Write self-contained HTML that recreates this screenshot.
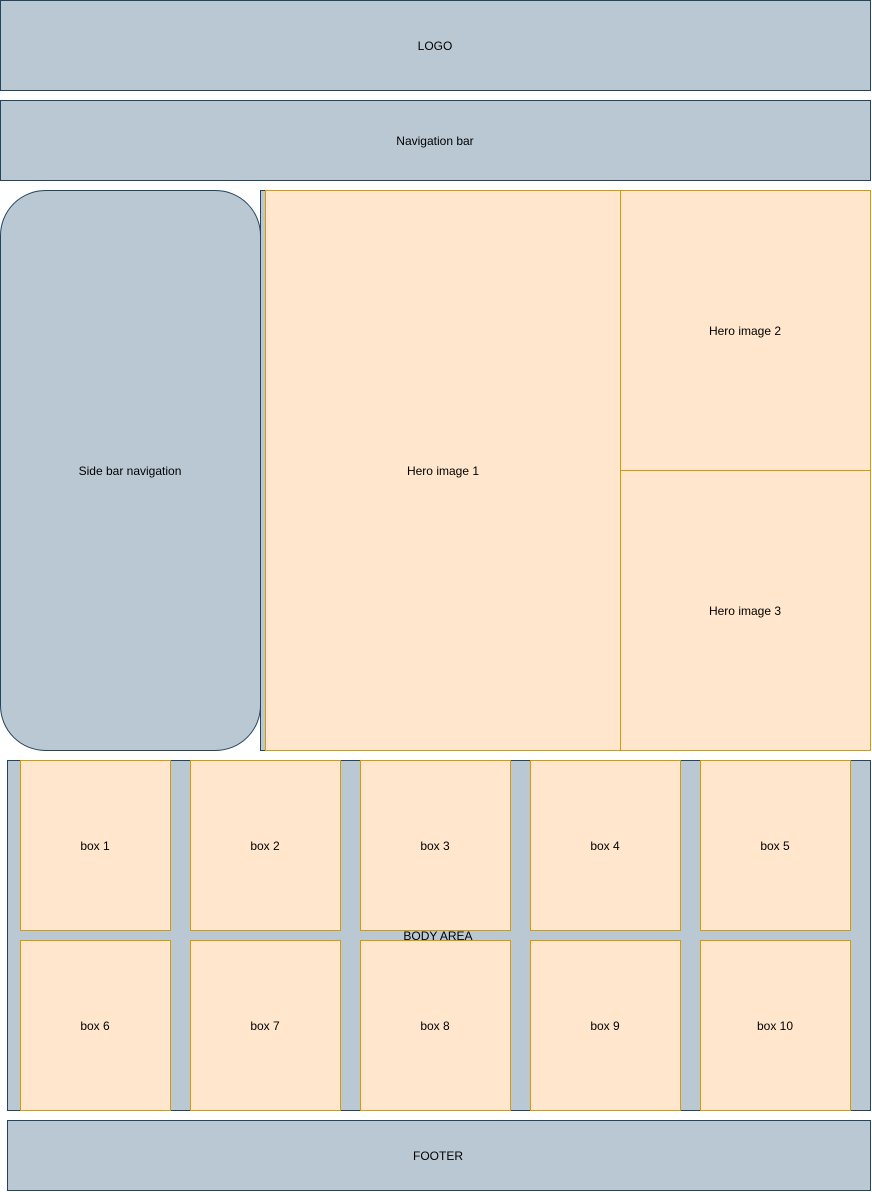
<!DOCTYPE html>
<html><head><meta charset="utf-8"><style>body{margin:0;background:#fff}svg{display:block}text{font-family:"Liberation Sans",sans-serif;font-size:12px;fill:#000;text-anchor:middle;dominant-baseline:central}</style></head><body>
<svg width="872" height="1192" viewBox="0 0 872 1192">
<g fill="#bac8d3" stroke="#23445d">
<rect x="0.5" y="0.5" width="870" height="90"/>
<rect x="0.5" y="100.5" width="870" height="80"/>
<rect x="0.5" y="190.5" width="260" height="560" rx="45" ry="45"/>
<rect x="260.5" y="190.5" width="610" height="560"/>
<rect x="7.5" y="760.5" width="863" height="350"/>
<rect x="7.5" y="1120.5" width="863" height="70"/>
</g>
<g fill="#ffe6cc" stroke="#d79b00">
<rect x="265.5" y="190.5" width="355" height="560"/>
<rect x="620.5" y="190.5" width="250" height="280"/>
<rect x="620.5" y="470.5" width="250" height="280"/>
<rect x="20.5" y="760.5" width="150" height="170"/>
<rect x="190.5" y="760.5" width="150" height="170"/>
<rect x="360.5" y="760.5" width="150" height="170"/>
<rect x="530.5" y="760.5" width="150" height="170"/>
<rect x="700.5" y="760.5" width="150" height="170"/>
<rect x="20.5" y="940.5" width="150" height="170"/>
<rect x="190.5" y="940.5" width="150" height="170"/>
<rect x="360.5" y="940.5" width="150" height="170"/>
<rect x="530.5" y="940.5" width="150" height="170"/>
<rect x="700.5" y="940.5" width="150" height="170"/>
</g>
<text x="435" y="46">LOGO</text>
<text x="435" y="141">Navigation bar</text>
<text x="130" y="471">Side bar navigation</text>
<text x="443" y="471">Hero image 1</text>
<text x="745" y="331">Hero image 2</text>
<text x="745" y="611">Hero image 3</text>
<text x="95" y="846">box 1</text>
<text x="265" y="846">box 2</text>
<text x="435" y="846">box 3</text>
<text x="605" y="846">box 4</text>
<text x="775" y="846">box 5</text>
<text x="438" y="936">BODY AREA</text>
<text x="95" y="1026">box 6</text>
<text x="265" y="1026">box 7</text>
<text x="435" y="1026">box 8</text>
<text x="605" y="1026">box 9</text>
<text x="775" y="1026">box 10</text>
<text x="438" y="1156">FOOTER</text>
</svg>
</body></html>
